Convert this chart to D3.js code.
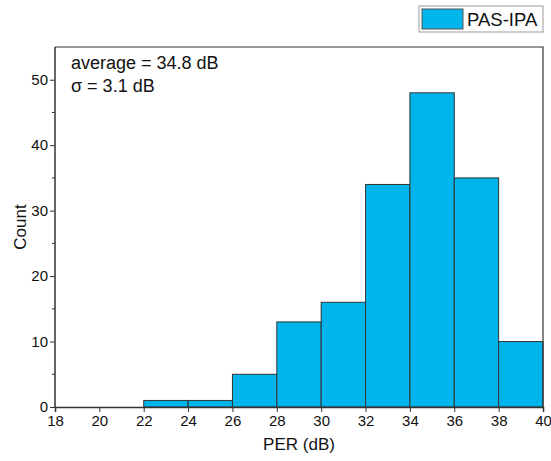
<!DOCTYPE html>
<html lang="en">
<head>
<meta charset="UTF-8">
<title>PER histogram</title>
<script src="https://d3js.org/d3.v7.min.js"></script>
<style>
    body, html { margin: 0; padding: 0; background: #fff; }
    svg { display: block; font-family: 'Liberation Sans', Arial, sans-serif; }
</style>
</head>
<body>
<svg id="chart" width="551" height="461"></svg>
<script>
// histogram bins (dB) and counts
const binStarts = [18, 20, 22, 24, 26, 28, 30, 32, 34, 36, 38];
const binWidth = 2;
const counts = [0, 0, 1, 1, 5, 13, 16, 34, 48, 35, 10];
const xTicks = [18, 20, 22, 24, 26, 28, 30, 32, 34, 36, 38, 40];
const yTicks = [0, 10, 20, 30, 40, 50];
const yMinor = [5, 15, 25, 35, 45];
const seriesName = "PAS-IPA";
const notes = ["average = 34.8 dB", "\u03c3 = 3.1 dB"];

const svg = d3.select("#chart");
const m = {left: 55, right: 8, top: 47, bottom: 54};
const W = 551, H = 461;

const x = d3.scaleLinear().domain([18, 40]).range([m.left, W - m.right]);
const y = d3.scaleLinear().domain([0, 55]).range([H - m.bottom, m.top]);

// bars
svg.append("g").selectAll("rect")
    .data(binStarts.map((s, i) => ({s, c: counts[i]})).filter(d => d.c > 0))
    .join("rect")
    .attr("x", d => x(d.s))
    .attr("width", d => x(d.s + binWidth) - x(d.s))
    .attr("y", d => y(d.c))
    .attr("height", d => y(0) - y(d.c))
    .attr("fill", "#00b4ec")
    .attr("stroke", "#333")
    .attr("stroke-width", 1);

// frame (top + right)
svg.append("path")
    .attr("d", `M${x(18)},${y(55)}H${x(40)}V${y(0)}`)
    .attr("fill", "none").attr("stroke", "#333").attr("stroke-width", 1.2);

// axes
const xAxis = svg.append("g")
    .attr("transform", `translate(0,${y(0)})`)
    .call(d3.axisBottom(x).tickValues(xTicks).tickSize(5).tickPadding(3));
const yAxis = svg.append("g")
    .attr("transform", `translate(${x(18)},0)`)
    .call(d3.axisLeft(y).tickValues(yTicks).tickSize(5).tickPadding(2));
yAxis.selectAll(".minor").data(yMinor).join("line")
    .attr("class", "minor")
    .attr("x1", -3).attr("x2", 0)
    .attr("y1", d => y(d)).attr("y2", d => y(d))
    .attr("stroke", "#333");

[xAxis, yAxis].forEach(a => {
    a.select(".domain").attr("stroke", "#333").attr("stroke-width", 1.5);
    a.selectAll(".tick line").attr("stroke", "#333");
    a.selectAll("text").attr("font-size", 15).attr("fill", "#111")
        .attr("font-family", "'Liberation Sans', Arial, sans-serif");
});
yAxis.select(".domain").attr("d", `M0,${y(0)}V${y(55)}`);

// axis titles
svg.append("text")
    .attr("x", (x(18) + x(40)) / 2).attr("y", 450)
    .attr("text-anchor", "middle").attr("font-size", 17).attr("fill", "#111")
    .text("PER (dB)");
svg.append("text")
    .attr("transform", `translate(26,${(y(0) + y(55)) / 2}) rotate(-90)`)
    .attr("text-anchor", "middle").attr("font-size", 17).attr("fill", "#111")
    .text("Count");

// annotation
svg.append("g").selectAll("text").data(notes).join("text")
    .attr("x", 71).attr("y", (d, i) => 69 + i * 23)
    .attr("font-size", 18).attr("fill", "#111")
    .text(d => d);

// legend
const lg = svg.append("g").attr("transform", "translate(419,6)");
lg.append("rect").attr("width", 124).attr("height", 26)
    .attr("fill", "#fff").attr("stroke", "#999");
lg.append("rect").attr("x", 3).attr("y", 3).attr("width", 41).attr("height", 20)
    .attr("fill", "#00b4ec").attr("stroke", "#555");
lg.append("text").attr("x", 48).attr("y", 20)
    .attr("font-size", 18.5).attr("fill", "#111").text(seriesName);
</script>
</body>
</html>
